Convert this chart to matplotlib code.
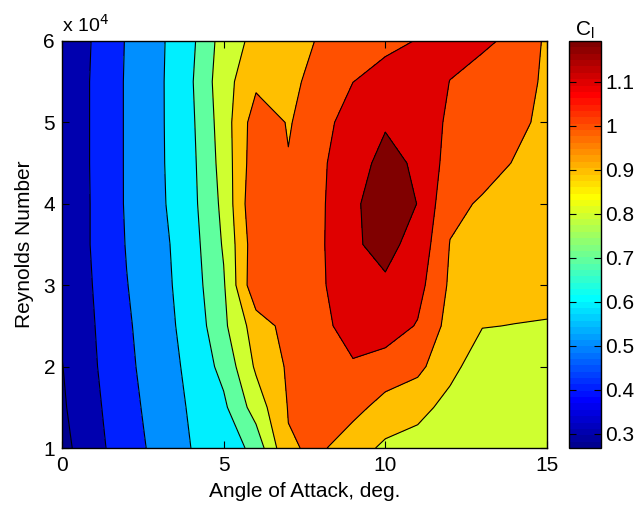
import numpy as np
import matplotlib
matplotlib.use("Agg")
import matplotlib.pyplot as plt
from matplotlib.colors import ListedColormap, Normalize
from matplotlib.cm import ScalarMappable
from matplotlib.ticker import FuncFormatter

# Measurement grid: angle of attack (deg) and Reynolds number
alpha_deg = np.arange(0, 16)
reynolds = np.array([1.0, 1.5, 2.0, 2.5, 3.0, 3.5, 4.0, 4.5, 5.0, 5.5, 6.0]) * 1e4

# Lift coefficient, one row per Reynolds number, one column per angle
cl_re10k = [0.270, 0.365, 0.462, 0.525, 0.601, 0.630, 0.736, 0.992, 1.014, 0.944, 0.881, 0.860, 0.860, 0.850, 0.850, 0.850]
cl_re15k = [0.287, 0.377, 0.477, 0.529, 0.614, 0.681, 0.845, 1.005, 1.030, 1.030, 0.965, 0.930, 0.870, 0.860, 0.850, 0.850]
cl_re20k = [0.297, 0.391, 0.481, 0.547, 0.626, 0.729, 0.915, 1.013, 1.050, 1.090, 1.057, 1.025, 0.927, 0.850, 0.850, 0.850]
cl_re25k = [0.310, 0.398, 0.485, 0.569, 0.629, 0.780, 0.949, 1.035, 1.075, 1.140, 1.150, 1.093, 0.965, 0.903, 0.898, 0.895]
cl_re30k = [0.320, 0.405, 0.497, 0.565, 0.650, 0.790, 1.080, 1.050, 1.086, 1.170, 1.188, 1.135, 0.985, 0.950, 0.935, 0.925]
cl_re35k = [0.333, 0.410, 0.505, 0.570, 0.658, 0.810, 1.066, 1.040, 1.087, 1.189, 1.225, 1.169, 0.997, 0.960, 0.950, 0.940]
cl_re40k = [0.333, 0.410, 0.510, 0.581, 0.670, 0.825, 1.090, 1.030, 1.086, 1.182, 1.257, 1.198, 1.021, 0.991, 0.975, 0.965]
cl_re45k = [0.330, 0.412, 0.510, 0.584, 0.675, 0.839, 1.065, 1.004, 1.080, 1.178, 1.216, 1.192, 1.058, 1.030, 0.996, 0.975]
cl_re50k = [0.330, 0.412, 0.510, 0.584, 0.682, 0.849, 1.053, 0.994, 1.044, 1.174, 1.195, 1.160, 1.083, 1.050, 1.017, 0.983]
cl_re55k = [0.330, 0.412, 0.510, 0.583, 0.690, 0.860, 0.980, 0.985, 1.022, 1.099, 1.140, 1.140, 1.099, 1.065, 1.028, 0.989]
cl_re60k = [0.320, 0.409, 0.507, 0.582, 0.678, 0.845, 0.928, 0.970, 1.007, 1.040, 1.075, 1.104, 1.120, 1.115, 1.081, 0.983]

contour_levels = [0.3, 0.4, 0.5, 0.6, 0.7, 0.8, 0.9, 1.0, 1.1, 1.2]
colorbar_ticks = [0.3, 0.4, 0.5, 0.6, 0.7, 0.8, 0.9, 1.0, 1.1]
colorbar_ticklabels = ["0.3", "0.4", "0.5", "0.6", "0.7", "0.8", "0.9", "1", "1.1"]
x_ticks = [0, 5, 10, 15]
y_ticks = [1e4, 2e4, 3e4, 4e4, 5e4, 6e4]
color_limits = (0.268, 1.193)

cl = np.array([cl_re10k, cl_re15k, cl_re20k, cl_re25k, cl_re30k, cl_re35k,
               cl_re40k, cl_re45k, cl_re50k, cl_re55k, cl_re60k])


def classic_jet(m=64):
    n = int(np.ceil(m / 4))
    u = np.concatenate([np.arange(1, n + 1) / n, np.ones(n - 1), np.arange(n, 0, -1) / n])
    g = int(np.ceil(n / 2)) - (1 if m % 4 == 1 else 0) + np.arange(1, len(u) + 1)
    r = g + n
    b = g - n
    table = np.zeros((m, 3))
    for idx, ch in ((r, 0), (g, 1), (b, 2)):
        ok = (idx >= 1) & (idx <= m)
        table[idx[ok] - 1, ch] = u[ok]
    return table


lut = classic_jet(64)
cmap = ListedColormap(lut)
cmin, cmax = color_limits


def lut_color(v):
    i = int(np.floor((v - cmin) / (cmax - cmin) * len(lut)))
    return lut[min(max(i, 0), len(lut) - 1)]


# each filled band takes the colour of its lower bound
bounds = [cl.min() - 1.0] + contour_levels + [cl.max() + 1.0]
band_values = [cl.min()] + contour_levels
band_colors = [lut_color(v) for v in band_values]

plt.rcParams["font.family"] = ["Liberation Sans", "DejaVu Sans"]
fig = plt.figure(figsize=(6.39, 5.08), dpi=100)
ax = fig.add_axes([62 / 639, 60 / 508, 485 / 639, 407 / 508])
cax = fig.add_axes([569 / 639, 60 / 508, 32 / 639, 407 / 508])

A, R = np.meshgrid(alpha_deg, reynolds)
ax.contourf(A, R, cl, levels=bounds, colors=band_colors)
ax.contour(A, R, cl, levels=contour_levels, colors="k", linewidths=0.8)

ax.set_xlim(0, 15)
ax.set_ylim(1e4, 6e4)
ax.set_xticks(x_ticks)
ax.set_yticks(y_ticks)
ax.yaxis.set_major_formatter(FuncFormatter(lambda v, p: f"{v / 1e4:g}"))
ax.tick_params(direction="in", length=5, width=0.8, top=True, right=True,
               labelsize=15)
ax.tick_params(axis="x", pad=6)
ax.tick_params(axis="y", pad=5)
for s in ax.spines.values():
    s.set_linewidth(1.0)
ax.set_xlabel("Angle of Attack, deg.", fontsize=15, labelpad=5)
ax.set_ylabel("Reynolds Number", fontsize=15, labelpad=7)
ax.text(0.0, 1.012, "x 10$^{4}$", transform=ax.transAxes, fontsize=14,
        ha="left", va="bottom")

sm = ScalarMappable(norm=Normalize(cmin, cmax), cmap=cmap)
cb = fig.colorbar(sm, cax=cax, ticks=colorbar_ticks)
cb.set_ticklabels(colorbar_ticklabels)
cb.outline.set_linewidth(1.0)
cax.tick_params(direction="in", length=5, width=0.8, left=True, right=True,
                labelsize=15, pad=3)
cax.set_title("C$_\\mathregular{l}$", fontsize=15, pad=4)

fig.savefig("out.png", dpi=100)
